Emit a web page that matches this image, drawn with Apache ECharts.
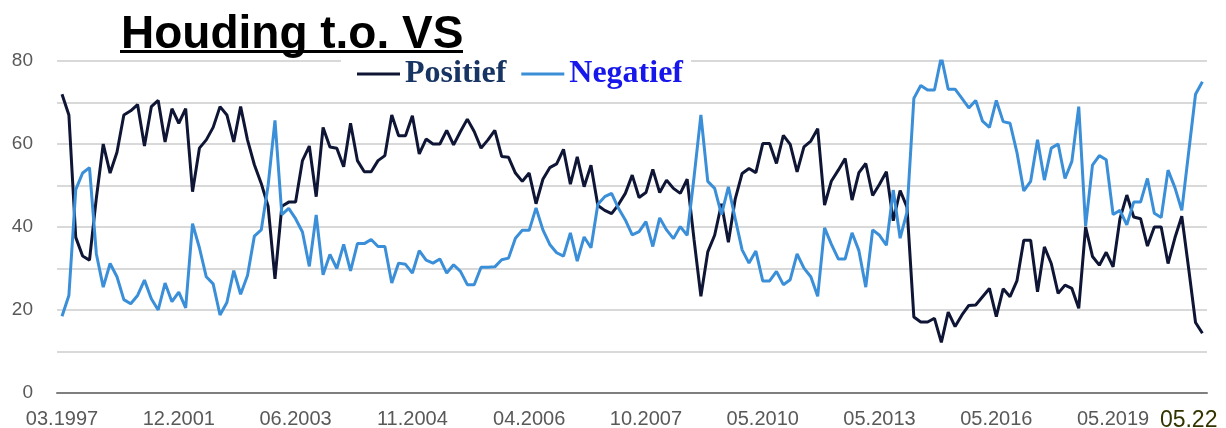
<!DOCTYPE html>
<html>
<head>
<meta charset="utf-8">
<script src="https://cdn.jsdelivr.net/npm/echarts@6/dist/echarts.min.js"></script>
<style>
  html, body { margin: 0; padding: 0; background: #fff; }
  #chart { width: 1226px; height: 428px; }
</style>
</head>
<body>
<div id="chart"></div>
<script>
// survey waves (one value per wave)
var positief = [
  72, 67, 37.5, 33, 32, 47, 60, 53, 58, 67, 68, 69.5, 59.5, 69, 70.5, 60.5, 68.5, 65, 68.5, 48.5,
  59, 61, 64, 69, 67, 60.5, 69, 61, 55, 50.5, 45, 27.5, 45, 46, 46, 56, 59.5, 47.3, 64, 59.3,
  59, 54.5, 65, 56, 53.3, 53.3, 56, 57.2, 67, 62, 62, 66.8, 57.6, 61.2, 60, 60, 63.3, 59.8, 63, 66,
  63, 59, 61, 63.3, 57, 56.8, 53, 51, 53, 45.6, 51.5, 54.3, 55.2, 58.7, 50.3, 56.9, 49.7, 54.9, 45.2, 44,
  43.2, 45.4, 48.1, 52.5, 47.1, 48.3, 53.9, 48.3, 51.3, 49.3, 48.1, 51.5, 37, 23.3, 34, 38, 45.6, 36.3, 46.8, 52.9,
  54.1, 53.1, 60.1, 60.1, 55.3, 62.1, 59.9, 53.3, 59.3, 60.7, 63.7, 45.3, 51.1, 53.7, 56.5, 46.5, 53.1, 55.3, 47.6, 50.3,
  53.3, 41.5, 48.8, 44.8, 18.3, 17.1, 17.1, 18, 12.2, 19.5, 16, 18.8, 21.1, 21.2, 23.2, 25.2, 18.4, 25.1, 23.2, 27,
  36.8, 36.8, 24.4, 35.2, 31.2, 24, 26, 25.2, 20.4, 40, 32.9, 30.8, 33.9, 30.4, 42, 47.7, 42.4, 42, 35.4, 40,
  40, 31.2, 37.4, 42.6, 30, 17, 14.4
];
var negatief = [
  18.5, 23.5, 49, 53, 54.3, 33.5, 25.5, 31.2, 28, 22.5, 21.5, 23.5, 27.2, 22.7, 20, 26.5, 22, 24.3, 20.5, 40.8,
  35, 28, 26.3, 18.8, 21.8, 29.5, 23.8, 28.3, 37.8, 39.3, 50, 65.7, 43, 44.5, 42, 38.8, 30.5, 42.9, 28.5, 33.4,
  30, 35.8, 29.4, 36, 36, 37, 35.3, 35.3, 26.5, 31.3, 31, 28.9, 34.3, 32, 31.3, 32.3, 28.9, 30.9, 29.3, 26.1,
  26.1, 30.3, 30.3, 30.4, 32.1, 32.5, 37.3, 39.2, 39.2, 44.6, 39.3, 35.8, 33.8, 33, 38.6, 31.8, 37.6, 35, 45.5, 47.3,
  48.1, 44.5, 41.7, 38.1, 38.9, 41.3, 35.3, 42.2, 39.3, 37.2, 40.1, 38, 52, 67, 51, 49.3, 43, 49.7, 42, 34.5,
  31.3, 34.2, 27, 27, 29.3, 26.1, 27.3, 33.5, 30.1, 28, 23.3, 39.8, 35.8, 32.3, 32.3, 38.6, 34.3, 25.5, 39.3, 38,
  35.6, 48.9, 37.3, 43.6, 71, 74.1, 73, 73, 81, 73.2, 73.2, 71, 68.7, 70.5, 65.5, 64, 70.5, 65.4, 65, 58,
  48.7, 51, 61, 51.3, 59, 60, 51.7, 55.8, 69, 40.2, 54.9, 57.2, 56.2, 43, 44, 40.5, 46, 46, 51.7, 43.3,
  42.3, 53.7, 49.5, 44, 58, 72, 75
];
var tickIndex = [0, 17, 34, 51, 68, 85, 102, 119, 136, 153, 164];
var tickLabels = ['03.1997', '12.2001', '06.2003', '11.2004', '04.2006', '10.2007',
                  '05.2010', '05.2013', '05.2016', '05.2019', '05.22'];

function toPairs(arr){
    var out = [];
    for (var i = 0; i < arr.length; i++) {
        out.push([i, arr[i]]);
    }
    return out;
}

var chart = echarts.init(document.getElementById('chart'));
var option = {
    backgroundColor: '#fff',
    animation: false,
    title: {
        text: 'Houding t.o. VS',
        left: 116,
        top: 7,
        textStyle: {
            fontFamily: 'Liberation Sans',
            fontWeight: 'bold',
            fontSize: 46,
            color: '#000'
        }
    },
    graphic: [{
        // underline of the title
        type: 'rect',
        left: 120,
        top: 50,
        shape: { width: 343, height: 3 },
        style: { fill: '#000' }
    }],
    legend: {
        left: 341,
        top: 56,
        padding: [2, 8, 2, 16],
        backgroundColor: '#fff',
        icon: 'rect',
        itemWidth: 43,
        itemHeight: 3,
        itemGap: 15,
        textStyle: {
            fontFamily: 'Liberation Serif',
            fontWeight: 'bold',
            fontSize: 32
        },
        data: [
            { name: 'Positief', textStyle: { color: '#183463' } },
            { name: 'Negatief', textStyle: { color: '#1717ec' } }
        ]
    },
    grid: {
        left: 57,
        right: 19,
        top: 61,
        bottom: 35,
        outerBoundsMode: 'none'
    },
    xAxis: {
        type: 'value',
        min: -0.73,
        max: 166.67,
        splitLine: { show: false },
        axisTick: { show: false },
        axisLine: { lineStyle: { color: '#7f7f7f', width: 2 } },
        axisLabel: {
            customValues: tickIndex,
            margin: 16,
            color: '#595959',
            fontFamily: 'Liberation Sans',
            fontSize: 20,
            formatter: function(v){
                var k = tickIndex.indexOf(Math.round(v));
                if (k < 0) return '';
                if (k === tickIndex.length - 1) return '{last|' + tickLabels[k] + '}';
                return tickLabels[k];
            },
            rich: {
                last: {
                    color: '#333300',
                    fontFamily: 'Liberation Sans',
                    fontSize: 23
                }
            }
        }
    },
    yAxis: {
        type: 'value',
        min: 0,
        max: 80,
        interval: 10,
        axisLine: { show: false },
        axisTick: { show: false },
        splitLine: { lineStyle: { color: '#d9d9d9', width: 2 } },
        axisLabel: {
            margin: 24,
            color: '#595959',
            fontFamily: 'Liberation Sans',
            fontSize: 19,
            formatter: function(v){
                return v % 20 === 0 ? v : '';
            }
        }
    },
    series: [{
        name: 'Positief',
        type: 'line',
        showSymbol: false,
        symbol: 'none',
        color: '#0e1535',
        lineStyle: { width: 3, color: '#0e1535' },
        data: toPairs(positief)
    }, {
        name: 'Negatief',
        type: 'line',
        showSymbol: false,
        symbol: 'none',
        color: '#3a8fd8',
        lineStyle: { width: 3, color: '#3a8fd8' },
        data: toPairs(negatief)
    }]
};
chart.setOption(option);
</script>
</body>
</html>
